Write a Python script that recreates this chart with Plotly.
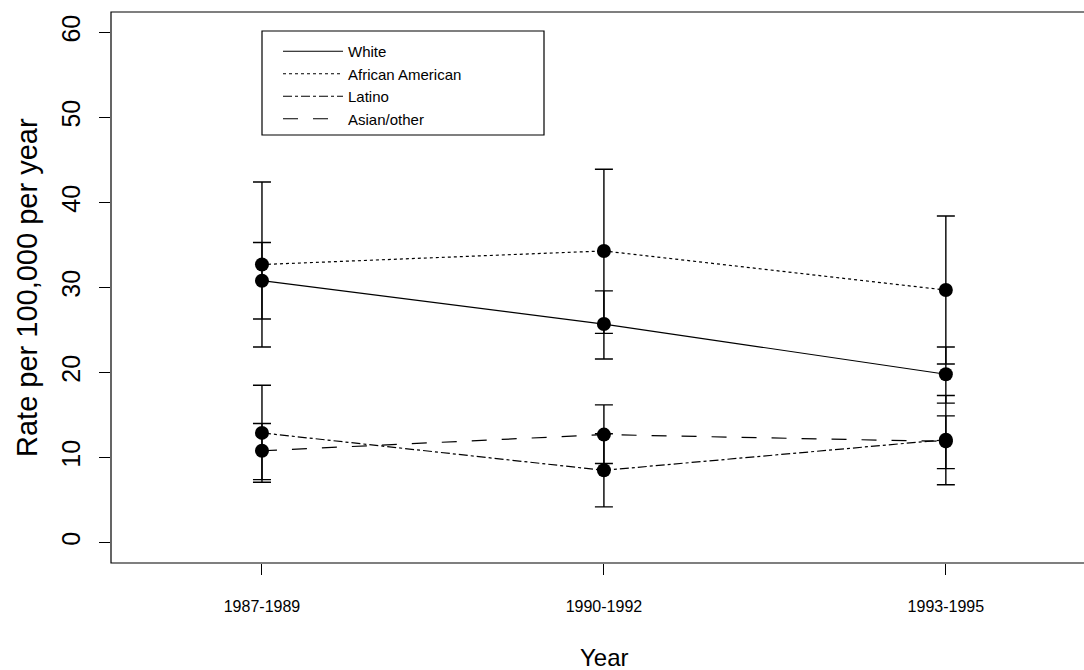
import plotly.graph_objects as go

periods = ["1987-1989", "1990-1992", "1993-1995"]
xpos = [1, 2, 3]

white = [30.8, 25.7, 19.8]
white_lo = [26.3, 21.6, 16.4]
white_hi = [35.3, 29.6, 23.0]

afam = [32.7, 34.3, 29.7]
afam_lo = [23.0, 24.6, 21.0]
afam_hi = [42.4, 43.9, 38.4]

latino = [12.9, 8.5, 12.1]
latino_lo = [7.1, 4.2, 6.8]
latino_hi = [18.5, 12.8, 17.3]

asian = [10.8, 12.7, 11.9]
asian_lo = [7.4, 9.3, 8.7]
asian_hi = [14.0, 16.2, 14.9]

series = [
    ("White", white, white_lo, white_hi, "solid"),
    ("African American", afam, afam_lo, afam_hi, "dot"),
    ("Latino", latino, latino_lo, latino_hi, "dashdot"),
    ("Asian/other", asian, asian_lo, asian_hi, "longdash"),
]

FONT = "Liberation Sans, Arial, sans-serif"
fig = go.Figure()

for name, v, lo, hi, dash in series:
    fig.add_trace(go.Scatter(
        x=xpos, y=v, mode="lines", name=name,
        line=dict(color="black", width=1.2, dash=dash),
        showlegend=True,
    ))

for name, v, lo, hi, dash in series:
    fig.add_trace(go.Scatter(
        x=xpos, y=v, mode="markers", name=name, showlegend=False,
        marker=dict(color="black", size=14),
        error_y=dict(type="data", symmetric=False,
                     array=[h - m for h, m in zip(hi, v)],
                     arrayminus=[m - l for l, m in zip(lo, v)],
                     color="black", thickness=1.4, width=9),
    ))

fig.add_shape(type="rect", xref="paper", yref="paper", x0=0, x1=1.01, y0=0, y1=1,
              line=dict(color="black", width=1.2), fillcolor="rgba(0,0,0,0)")
# legend frame
fig.add_shape(type="rect", xref="paper", yref="paper",
              x0=(262 - 111) / 973, x1=(544 - 111) / 973,
              y0=(563 - 135) / 551, y1=(563 - 31) / 551,
              line=dict(color="black", width=1.2), fillcolor="rgba(0,0,0,0)")

fig.add_annotation(text="Rate per 100,000 per year", xref="paper", yref="paper",
                   x=(27 - 111) / 973, y=(563 - 288) / 551, textangle=-90, showarrow=False,
                   xanchor="center", yanchor="middle",
                   font=dict(family=FONT, size=29, color="black"))
fig.add_annotation(text="Year", xref="paper", yref="paper",
                   x=(604 - 111) / 973, y=(563 - 657) / 551, showarrow=False,
                   xanchor="center", yanchor="middle",
                   font=dict(family=FONT, size=24, color="black"))

fig.update_layout(
    width=1084, height=670,
    margin=dict(l=111, r=0, t=12, b=107),
    paper_bgcolor="white", plot_bgcolor="white",
    font=dict(family=FONT, color="black"),
    xaxis=dict(range=[0.5585, 3.404], tickvals=xpos, ticktext=periods,
               showgrid=False, zeroline=False, showline=False,
               ticks="outside", ticklen=11, tickwidth=1, tickcolor="black",
               tickfont=dict(family=FONT, size=16, color="black"),
               ticklabelstandoff=18),
    yaxis=dict(range=[-2.4, 62.4], tickvals=[0, 10, 20, 30, 40, 50, 60],
               showgrid=False, zeroline=False, showline=False,
               ticks="outside", ticklen=11, tickwidth=1, tickcolor="black",
               tickangle=-90,
               tickfont=dict(family=FONT, size=25, color="black"),
               ticklabelstandoff=9),
    legend=dict(x=(278 - 111) / 973, y=(563 - 35) / 551, xanchor="left", yanchor="top",
                bgcolor="rgba(0,0,0,0)", borderwidth=0, itemwidth=60,
                font=dict(family=FONT, size=15, color="black"),
                tracegroupgap=0),
)

fig.write_html("out.html")
